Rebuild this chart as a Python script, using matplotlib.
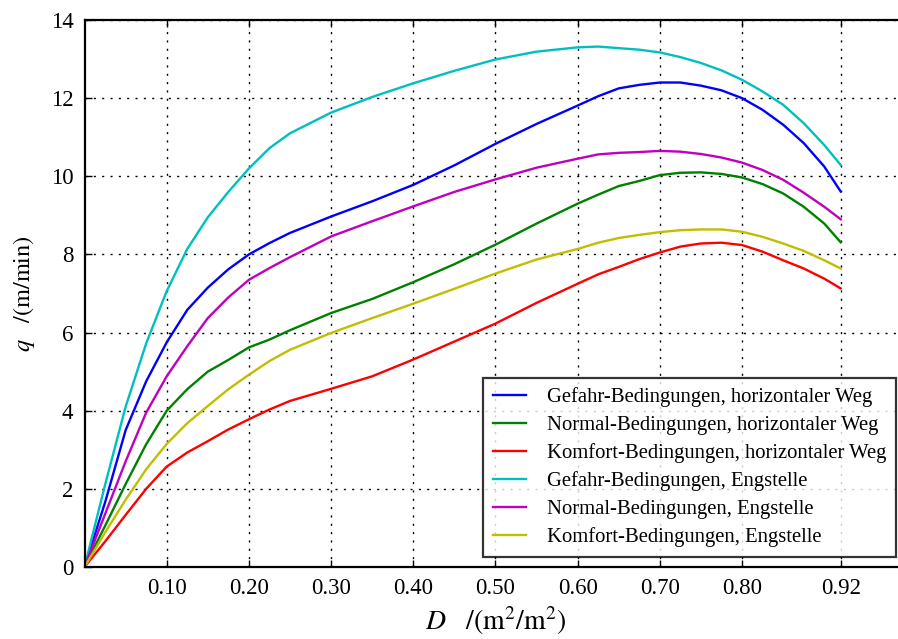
import matplotlib
matplotlib.use("Agg")
import matplotlib.pyplot as plt

plt.rcParams['font.family'] = ['Liberation Serif', 'DejaVu Serif']
plt.rcParams['mathtext.fontset'] = 'stix'

# Verkehrsdichte D in m²/m²
D = [0.0, 0.025, 0.05, 0.075, 0.10, 0.125, 0.15, 0.175, 0.20, 0.225, 0.25, 0.30,
     0.35, 0.40, 0.45, 0.50, 0.55, 0.60, 0.625, 0.65, 0.675, 0.70, 0.725, 0.75,
     0.775, 0.80, 0.825, 0.85, 0.875, 0.90, 0.92]

# Spezifischer Fluss q in m/min
gefahr_weg = [0.0, 1.65, 3.5, 4.75, 5.75, 6.58, 7.15, 7.62, 8.0, 8.29, 8.55, 8.97,
              9.36, 9.78, 10.28, 10.83, 11.34, 11.81, 12.05, 12.25, 12.34, 12.40,
              12.40, 12.32, 12.20, 12.0, 11.70, 11.32, 10.85, 10.25, 9.61]
normal_weg = [0.0, 1.05, 2.12, 3.14, 4.0, 4.55, 5.0, 5.3, 5.62, 5.82, 6.06, 6.50,
              6.86, 7.29, 7.75, 8.25, 8.79, 9.30, 9.53, 9.75, 9.88, 10.03,
              10.09, 10.10, 10.06, 9.97, 9.80, 9.56, 9.22, 8.79, 8.31]
komfort_weg = [0.0, 0.65, 1.33, 2.0, 2.57, 2.93, 3.22, 3.52, 3.78, 4.03, 4.25, 4.56,
               4.88, 5.31, 5.77, 6.23, 6.76, 7.25, 7.49, 7.68, 7.88, 8.05,
               8.20, 8.28, 8.30, 8.24, 8.07, 7.85, 7.64, 7.38, 7.13]
gefahr_eng = [0.0, 2.1, 4.1, 5.72, 7.06, 8.14, 8.95, 9.6, 10.2, 10.72, 11.1, 11.63,
              12.03, 12.38, 12.70, 12.99, 13.19, 13.30, 13.32, 13.28, 13.24, 13.17,
              13.05, 12.90, 12.71, 12.47, 12.17, 11.83, 11.36, 10.80, 10.29]
normal_eng = [0.0, 1.35, 2.7, 3.95, 4.88, 5.65, 6.37, 6.9, 7.35, 7.65, 7.93, 8.46,
              8.85, 9.23, 9.60, 9.92, 10.22, 10.45, 10.56, 10.60, 10.62, 10.65,
              10.63, 10.57, 10.48, 10.35, 10.16, 9.91, 9.58, 9.22, 8.90]
komfort_eng = [0.0, 0.88, 1.72, 2.5, 3.15, 3.68, 4.12, 4.55, 4.92, 5.27, 5.56, 5.99,
               6.37, 6.74, 7.12, 7.51, 7.87, 8.14, 8.30, 8.42, 8.50, 8.57,
               8.62, 8.64, 8.64, 8.58, 8.45, 8.28, 8.09, 7.85, 7.64]

labels = [
    "Gefahr-Bedingungen, horizontaler Weg",
    "Normal-Bedingungen, horizontaler Weg",
    "Komfort-Bedingungen, horizontaler Weg",
    "Gefahr-Bedingungen, Engstelle",
    "Normal-Bedingungen, Engstelle",
    "Komfort-Bedingungen, Engstelle",
]
series = [gefahr_weg, normal_weg, komfort_weg, gefahr_eng, normal_eng, komfort_eng]
colors = ['b', 'g', 'r', 'c', 'm', 'y']

x_ticks = [0.10, 0.20, 0.30, 0.40, 0.50, 0.60, 0.70, 0.80, 0.92]
y_ticks = [0, 2, 4, 6, 8, 10, 12, 14]

fig = plt.figure(figsize=(8.98, 6.39), dpi=100)
# the axes runs slightly past the right edge of the canvas
ax = fig.add_axes([0.0941, 0.1127, 0.9153, 0.856])

for vals, lab, col in zip(series, labels, colors):
    ax.plot(D, vals, color=col, lw=1.7, label=lab, solid_joinstyle='round')

ax.set_xlim(0, 1.0)
ax.set_ylim(0, 14)
ax.set_xticks(x_ticks)
ax.set_xticklabels([f"{t:.2f}" for t in x_ticks])
ax.set_yticks(y_ticks)

ax.grid(True, color='k', linestyle=(0, (1.5, 4.5)), linewidth=1.0)
ax.tick_params(direction='in', top=True, right=True, length=5, width=1,
               labelsize=16.5, pad=8)
for sp in ax.spines.values():
    sp.set_linewidth(1.6)

ax.set_xlabel(r'$D\quad/(\mathrm{m^2/m^2})$', fontsize=20, labelpad=4)
ax.set_ylabel(r'$q\quad/(\mathrm{m/min})$', fontsize=17.5, labelpad=10)

leg = ax.legend(loc='lower right', fontsize=14.9, frameon=True, fancybox=False,
                handlelength=1.6, handletextpad=1.05, labelspacing=0.40,
                borderpad=0.45, borderaxespad=0.5)
leg.get_frame().set_edgecolor('k')
leg.get_frame().set_linewidth(1.6)

fig.savefig("out.png", dpi=100, facecolor='white')
